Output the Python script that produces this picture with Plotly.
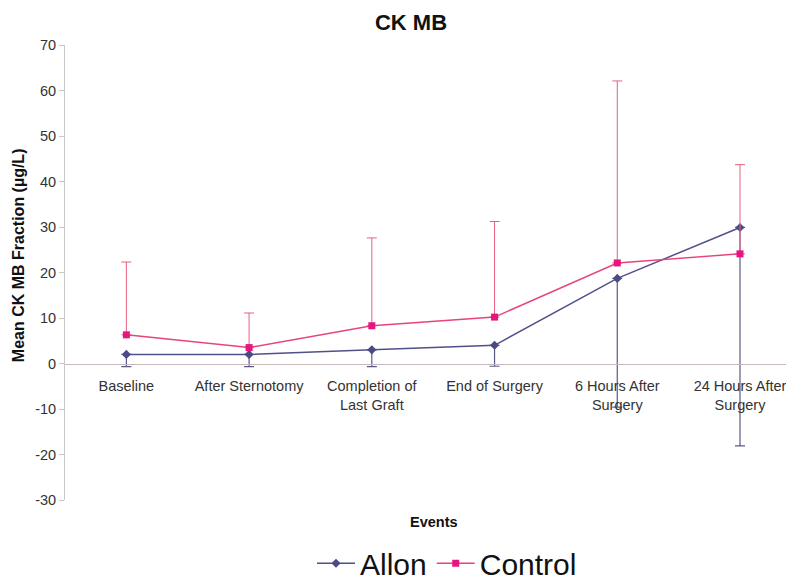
import plotly.graph_objects as go

categories = ["Baseline", "After Sternotomy", "Completion of<br>Last Graft",
              "End of Surgery", "6 Hours After<br>Surgery", "24 Hours After<br>Surgery"]
allon_mean = [2.0, 2.0, 3.0, 4.0, 18.7, 29.9]
allon_err_minus = [2.7, 2.7, 3.7, 4.6, 28.3, 48.0]
control_mean = [6.3, 3.5, 8.3, 10.2, 22.1, 24.1]
control_err_plus = [16.0, 7.6, 19.3, 21.0, 40.0, 19.6]
y_ticks = [-30, -20, -10, 0, 10, 20, 30, 40, 50, 60, 70]
y_tick_labels = ["-30", "-20", "-10", "0", "10", "20", "30", "40", "50", "60", "70"]

x_idx = list(range(len(categories)))

fig = go.Figure()
fig.add_trace(go.Scatter(
    x=x_idx, y=allon_mean, name="Allon", mode="lines+markers",
    line=dict(color="#50508a", width=1.5),
    marker=dict(symbol="diamond", size=7, color="#4a4a85"),
    error_y=dict(type="data", symmetric=False, array=[0] * len(allon_mean),
                 arrayminus=allon_err_minus, color="#5a5a88", thickness=1.2, width=5),
))
fig.add_trace(go.Scatter(
    x=x_idx, y=control_mean, name="Control", mode="lines+markers",
    line=dict(color="#e8447c", width=1.5),
    marker=dict(symbol="square", size=7, color="#e6157f"),
    error_y=dict(type="data", symmetric=False, array=control_err_plus,
                 arrayminus=[0] * len(control_mean), color="#e8607f", thickness=1, width=5),
))

# The page body adds an 8px offset; the figure is sized to fill the remaining window.
fig.update_layout(
    width=786, height=573,
    margin=dict(l=57, r=0, t=37, b=81, autoexpand=False),
    paper_bgcolor="white", plot_bgcolor="white",
    font=dict(family="Liberation Sans, Arial, sans-serif", color="#222"),
    title=dict(text="<b>CK MB</b>", xref="container", x=0.5127, xanchor="center",
               yref="container", y=0.9756, yanchor="middle",
               font=dict(size=22, color="#111")),
    xaxis=dict(
        range=[-0.5, 5.44], tickmode="array", tickvals=x_idx, ticktext=categories,
        anchor="free", position=0.3, showline=True, linecolor="#c8b8bc", linewidth=1,
        ticks="outside", ticklen=9, tickcolor="rgba(0,0,0,0)", showgrid=False, zeroline=False,
        tickfont=dict(size=14.5, color="#333"), automargin=False,
    ),
    yaxis=dict(
        range=[-30, 70], tickmode="array", tickvals=y_ticks, ticktext=y_tick_labels,
        showline=True, linecolor="#c8c8c8",
        linewidth=1, ticks="outside", ticklen=5, tickcolor="#c8c8c8",
        showgrid=False, zeroline=False, tickfont=dict(size=14.5, color="#333"),
        automargin=False,
    ),
    legend=dict(orientation="h", x=0.524, xanchor="center", y=-0.139, yanchor="middle",
                font=dict(size=30, color="#111"), itemwidth=38, tracegroupgap=0),
    showlegend=True,
)
fig.add_annotation(text="<b>Events</b>", xref="paper", yref="paper", x=0.506, y=-0.048,
                   showarrow=False, font=dict(size=14.5, color="#111"), yanchor="middle")
fig.add_annotation(text="<b>Mean CK MB Fraction (µg/L)</b>", xref="paper", yref="paper",
                   x=-0.0645, y=0.538, textangle=-90, showarrow=False,
                   font=dict(size=16, color="#111"), xanchor="center", yanchor="middle")

fig.write_html("out.html")
